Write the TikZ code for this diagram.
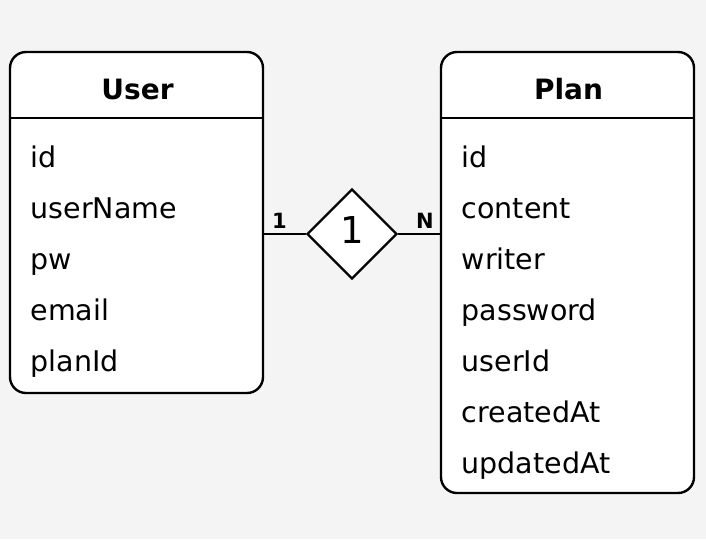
\documentclass[tikz,border=0pt]{standalone}
\usepackage{fontspec}
\setmainfont{DejaVu Sans}
\usetikzlibrary{shapes.geometric}
\definecolor{bgc}{RGB}{244,244,244}
\tikzset{
  tablebox/.style={draw=black, line width=2.4pt, fill=white, rounded corners=16pt, minimum width=253pt, inner sep=0pt},
  divline/.style={draw=black, line width=2.4pt},
  head/.style={anchor=base, inner sep=0pt, font=\fontsize{28}{33}\selectfont\bfseries},
  field/.style={anchor=base west, inner sep=0pt, font=\fontsize{28.5}{33}\selectfont},
  card/.style={anchor=base, inner sep=0pt, font=\fontsize{21}{25}\selectfont\bfseries},
  relbox/.style={diamond, draw=black, line width=2.4pt, fill=white, minimum width=90pt, minimum height=90pt, inner sep=0pt},
  conn/.style={draw=black, line width=2.4pt}
}
\begin{document}
\begin{tikzpicture}[x=1pt,y=-1pt]
\fill[bgc] (0,0) rectangle (706,539);
\useasboundingbox (0,0) rectangle (706,539);
% tables
\node[tablebox, minimum height=341pt] (user) at (136.5,222.5) {};
\node[tablebox, minimum height=441pt] (plan) at (567.5,272.5) {};
\coordinate (udiv) at (0,118);
\draw[divline] (user.west |- udiv) -- (user.east |- udiv);
\draw[divline] (plan.west |- udiv) -- (plan.east |- udiv);
\node[head] (userh) at (137.5,99) {User};
\node[head] (planh) at (568.5,99) {Plan};
% user fields
\node[field] (u1) at (30.5,167) {id};
\node[field] (u2) at (30.5,218) {userName};
\node[field] (u3) at (30.5,269) {pw};
\node[field] (u4) at (30.5,320) {email};
\node[field] (u5) at (30.5,371) {planId};
% plan fields
\node[field] (p1) at (461.5,167) {id};
\node[field] (p2) at (461.5,218) {content};
\node[field] (p3) at (461.5,269) {writer};
\node[field] (p4) at (461.5,320) {password};
\node[field] (p5) at (461.5,371) {userId};
\node[field] (p6) at (461.5,422) {createdAt};
\node[field] (p7) at (461.5,473) {updatedAt};
% relationship
\node[relbox] (rel) at (352,234) {};
\node[anchor=base, inner sep=0pt, font=\fontsize{37}{40}\selectfont] (relt) at (352,243) {1};
\draw[conn] (user.east |- rel) -- (rel.west);
\draw[conn] (rel.east) -- (plan.west |- rel);
\node[card] (c1) at (279.5,228) {1};
\node[card] (cn) at (425,228) {N};
\end{tikzpicture}
\end{document}
